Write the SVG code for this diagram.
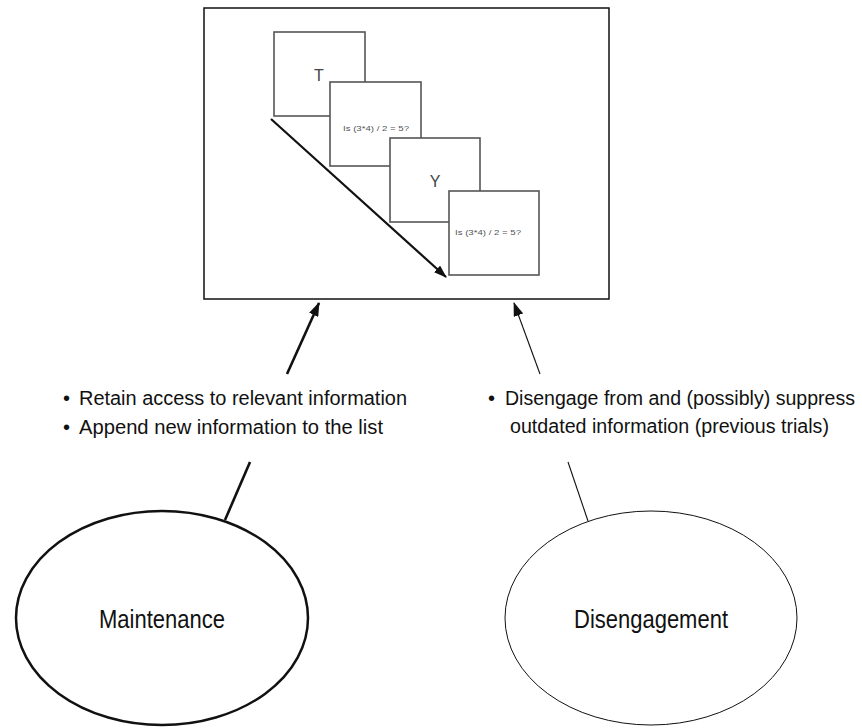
<svg xmlns="http://www.w3.org/2000/svg" width="862" height="728" viewBox="0 0 862 728">
<style>
.frame{fill:#fff;stroke:#111;stroke-width:1.5}
.card{fill:#fff;stroke:#555;stroke-width:1.6}
.big{font-family:"Liberation Sans",Arial,sans-serif;font-size:16px;fill:#444;text-anchor:middle}
.small{font-family:"Liberation Sans",Arial,sans-serif;font-size:8px;fill:#555;text-anchor:middle}
.lbl{font-family:"Liberation Sans",Arial,sans-serif;font-size:20px;fill:#111}
.node{font-family:"Liberation Sans",Arial,sans-serif;font-size:25px;fill:#111;text-anchor:middle}
</style>
<defs>
<marker id="ah" markerUnits="userSpaceOnUse" markerWidth="14" markerHeight="10" refX="13" refY="5" orient="auto">
<path d="M0,0 L14,5 L0,10 z" fill="#111"/>
</marker>
<marker id="ah2" markerUnits="userSpaceOnUse" markerWidth="13" markerHeight="9" refX="12" refY="4.5" orient="auto">
<path d="M0,0 L13,4.5 L0,9 z" fill="#111"/>
</marker>
</defs>
<g id="task">
<rect class="frame" x="204" y="8" width="405" height="291"/>
<rect class="card" x="274" y="32" width="91" height="84"/>
<text class="big" x="319" y="81">T</text>
<rect class="card" x="330" y="82" width="91" height="84"/>
<text class="small" x="376" y="131" textLength="66" lengthAdjust="spacingAndGlyphs">Is (3*4) / 2 = 5?</text>
<rect class="card" x="390" y="138" width="90" height="84"/>
<text class="big" x="435" y="187">Y</text>
<rect class="card" x="449" y="191" width="90" height="84"/>
<text class="small" x="488" y="235" textLength="66" lengthAdjust="spacingAndGlyphs">Is (3*4) / 2 = 5?</text>
<line x1="271" y1="119" x2="446" y2="277" stroke="#111" stroke-width="2.2" marker-end="url(#ah2)"/>
</g>
<g id="maintenance-text">
<text class="lbl" x="63" y="405">•</text>
<text class="lbl" x="79" y="405" textLength="328" lengthAdjust="spacingAndGlyphs">Retain access to relevant information</text>
<text class="lbl" x="63" y="434">•</text>
<text class="lbl" x="79" y="434" textLength="304" lengthAdjust="spacingAndGlyphs">Append new information to the list</text>
</g>
<g id="disengagement-text">
<text class="lbl" x="488" y="405">•</text>
<text class="lbl" x="505" y="405" textLength="350" lengthAdjust="spacingAndGlyphs">Disengage from and (possibly) suppress</text>
<text class="lbl" x="510" y="433" textLength="319" lengthAdjust="spacingAndGlyphs">outdated information (previous trials)</text>
</g>
<g id="maintenance">
<ellipse cx="162" cy="618" rx="146" ry="107" fill="#fff" stroke="#111" stroke-width="2.5"/>
<text class="node" x="162" y="628" textLength="126" lengthAdjust="spacingAndGlyphs">Maintenance</text>
</g>
<g id="disengagement">
<ellipse cx="651" cy="618" rx="146" ry="107" fill="#fff" stroke="#111" stroke-width="1"/>
<text class="node" x="651" y="628" textLength="154" lengthAdjust="spacingAndGlyphs">Disengagement</text>
</g>
<g id="connectors">
<line x1="287" y1="374" x2="319" y2="303" stroke="#111" stroke-width="2.6" marker-end="url(#ah)"/>
<line x1="540" y1="374" x2="514" y2="303" stroke="#111" stroke-width="1.1" marker-end="url(#ah)"/>
<line x1="250" y1="462" x2="225" y2="520" stroke="#111" stroke-width="2.6"/>
<line x1="568" y1="462" x2="588" y2="521" stroke="#111" stroke-width="1.1"/>
</g>
</svg>
